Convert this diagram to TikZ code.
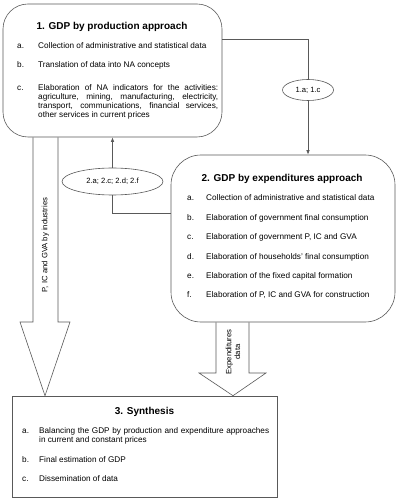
\documentclass[tikz,border=0pt]{standalone}
\usepackage{fontspec}
\setmainfont{Liberation Sans}
\usetikzlibrary{positioning,shapes.geometric,arrows.meta}
\def\txtsize{\fontsize{8.2}{8.8}\selectfont}
\def\headsize{\fontsize{10}{12}\selectfont\bfseries}
\colorlet{linecol}{black!65}

\begin{document}
\begin{tikzpicture}[x=1pt, y=-1pt,
    phase/.style={draw=linecol, line width=0.6pt, inner sep=0pt},
    heading/.style={font=\headsize, anchor=base, inner sep=0pt},
    lbl/.style={font=\txtsize, anchor=base west, inner sep=0pt},
    tag/.style={ellipse, draw=linecol, line width=0.6pt, inner sep=0pt, font=\fontsize{7.6}{9}\selectfont},
    flow/.style={draw=linecol, line width=0.6pt},
    tip/.style={-{Latex[length=4.5pt,width=3.5pt]}}]
    \useasboundingbox (0,0) rectangle (400,502);

    % Boxes
    \node (prod) at (112.5,70.5) [phase, rounded corners=25pt, minimum width=219pt, minimum height=133pt] {};
    \node (expend) at (283,238.5) [phase, rounded corners=30pt, minimum width=224pt, minimum height=167pt] {};
    \node (synth) at (144.5,446.5) [phase, minimum width=265pt, minimum height=101pt] {};

    % 1. production
    \node (prod title) at (112,29.3) [heading] {1. GDP by production approach};
    \node at (17,48.5) [lbl] {a.};
    \node at (38,48.5) [lbl] {Collection of administrative and statistical data};
    \node at (17,68) [lbl] {b.};
    \node at (38,68) [lbl] {Translation of data into NA concepts};
    \node at (17,90.8) [lbl] {c.};
    % base of a multi-line node is its last line
    \node (prod c) at (38,117.2) [lbl, align=left] {\makebox[180pt][s]{Elaboration of NA indicators for the activities:}\\
        \makebox[180pt][s]{agriculture, mining, manufacturing, electricity,}\\
        \makebox[180pt][s]{transport, communications, financial services,}\\
        other services in current prices};

    % 2. expenditures
    \node (expend title) at (282,181.5) [heading] {2. GDP by expenditures approach};
    \node at (187,201) [lbl] {a.};
    \node at (206,201) [lbl] {Collection of administrative and statistical data};
    \node at (187,220.5) [lbl] {b.};
    \node at (206,220.5) [lbl] {Elaboration of government final consumption};
    \node at (187,240) [lbl] {c.};
    \node at (206,240) [lbl] {Elaboration of government P, IC and GVA};
    \node at (187,259) [lbl] {d.};
    \node at (206,259) [lbl] {Elaboration of households' final consumption};
    \node at (187,278) [lbl] {e.};
    \node at (206,278) [lbl] {Elaboration of the fixed capital formation};
    \node at (187,297) [lbl] {f.};
    \node at (206,297) [lbl] {Elaboration of P, IC and GVA for construction};

    % 3. synthesis
    \node (synth title) at (144.5,414.5) [heading] {3. Synthesis};
    \node at (22,433.5) [lbl] {a.};
    \node at (39,442.3) [lbl, align=left] {\makebox[230pt][s]{Balancing the GDP by production and expenditure approaches}\\
        in current and constant prices};
    \node at (22,462) [lbl] {b.};
    \node at (39,462) [lbl] {Final estimation of GDP};
    \node at (22,481) [lbl] {c.};
    \node at (39,481) [lbl] {Dissemination of data};

    % Tags
    \node (tag one) at (308,90) [tag, minimum width=51pt, minimum height=21pt] {1.a; 1.c};
    \node (tag two) at (112.5,181.5) [tag, minimum width=101pt, minimum height=27pt] {2.a; 2.c; 2.d; 2.f};

    % Connectors
    \draw[flow] ([yshift=31.5pt]prod.east) -| (tag one.north);
    \draw[flow, tip] (tag one.south) -- (tag one |- expend.north);
    \draw[flow, tip] (tag two.north) -- (tag two |- prod.south);
    \draw[flow] (tag two.south) |- ([yshift=25.5pt]expend.west);

    % Fat arrows
    \draw[flow] (33,0 |- prod.south) |- (20,322) -- (45,0 |- synth.north) -- (70,322) -| (58,0 |- prod.south);
    \draw[flow] (216,0 |- expend.south) |- (199,373) -- (233,0 |- synth.north) -- (266,373) -| (249,0 |- expend.south);
    \node (prod arrow) at (45.5,245) [rotate=90, font=\fontsize{7.7}{9}\selectfont, inner sep=0pt] {P, IC and GVA by industries};
    \node (expend arrow) at (233,352) [rotate=90, font=\fontsize{7.7}{8.6}\selectfont, align=center, inner sep=0pt] {Expenditures\\data};
\end{tikzpicture}
\end{document}
